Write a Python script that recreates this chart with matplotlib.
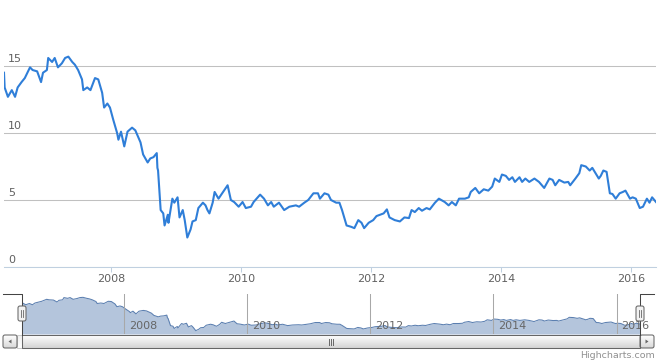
import matplotlib
matplotlib.use('Agg')
import matplotlib.pyplot as plt
import numpy as np
from matplotlib.patches import Rectangle, FancyBboxPatch, Polygon

# ---------------- data ----------------
years = [
    2006.35, 2006.36, 2006.41, 2006.47, 2006.52, 2006.56, 2006.62, 2006.67, 2006.75, 2006.79,
    2006.86, 2006.92, 2006.95, 2007.01, 2007.03, 2007.09, 2007.13, 2007.18, 2007.24, 2007.29,
    2007.34, 2007.40, 2007.44, 2007.49, 2007.55, 2007.57, 2007.63, 2007.68, 2007.75, 2007.80,
    2007.86, 2007.89, 2007.94, 2007.98, 2008.03, 2008.09, 2008.11, 2008.15, 2008.20, 2008.25,
    2008.32, 2008.37, 2008.45, 2008.49, 2008.56, 2008.60, 2008.65, 2008.70, 2008.71, 2008.72,
    2008.76, 2008.80, 2008.82, 2008.87, 2008.88, 2008.94, 2008.97, 2009.02, 2009.05, 2009.10,
    2009.13, 2009.17, 2009.22, 2009.25, 2009.30, 2009.34, 2009.41, 2009.45, 2009.48, 2009.51,
    2009.56, 2009.59, 2009.65, 2009.72, 2009.79, 2009.84, 2009.89, 2009.96, 2010.02, 2010.07,
    2010.15, 2010.19, 2010.29, 2010.35, 2010.41, 2010.46, 2010.50, 2010.58, 2010.66, 2010.74,
    2010.84, 2010.89, 2010.97, 2011.03, 2011.11, 2011.18, 2011.21, 2011.28, 2011.34, 2011.38,
    2011.46, 2011.51, 2011.55, 2011.62, 2011.69, 2011.74, 2011.80, 2011.85, 2011.89, 2011.96,
    2012.03, 2012.08, 2012.19, 2012.24, 2012.28, 2012.36, 2012.44, 2012.51, 2012.58, 2012.62,
    2012.67, 2012.73, 2012.78, 2012.85, 2012.90, 2012.98, 2013.04, 2013.13, 2013.19, 2013.24,
    2013.30, 2013.35, 2013.44, 2013.50, 2013.53, 2013.60, 2013.66, 2013.73, 2013.80, 2013.86,
    2013.90, 2013.97, 2014.01, 2014.07, 2014.12, 2014.17, 2014.21, 2014.28, 2014.32, 2014.37,
    2014.43, 2014.51, 2014.58, 2014.66, 2014.74, 2014.79, 2014.83, 2014.89, 2014.97, 2015.03,
    2015.06, 2015.14, 2015.20, 2015.23, 2015.30, 2015.36, 2015.40, 2015.45, 2015.50, 2015.53,
    2015.57, 2015.62, 2015.67, 2015.71, 2015.76, 2015.82, 2015.87, 2015.91, 2015.98, 2016.02,
    2016.07, 2016.13, 2016.18, 2016.24, 2016.28, 2016.32, 2016.38,
]
values = [
    14.5, 13.4, 12.7, 13.2, 12.7, 13.4, 13.8, 14.1, 14.9, 14.7,
    14.6, 13.8, 14.5, 14.7, 15.6, 15.3, 15.6, 14.9, 15.2, 15.6,
    15.7, 15.3, 15.1, 14.7, 14.0, 13.2, 13.4, 13.2, 14.1, 14.0,
    13.0, 11.9, 12.2, 11.9, 11.0, 10.0, 9.5, 10.1, 9.0, 10.1,
    10.4, 10.2, 9.3, 8.4, 7.8, 8.1, 8.2, 8.5, 7.4, 7.2,
    4.25, 4.0, 3.1, 3.9, 3.3, 5.1, 4.8, 5.2, 3.7, 4.25,
    3.5, 2.2, 2.8, 3.4, 3.5, 4.4, 4.8, 4.6, 4.25, 4.0,
    4.8, 5.6, 5.1, 5.6, 6.1, 5.0, 4.85, 4.5, 4.85, 4.4,
    4.5, 4.85, 5.4, 5.1, 4.6, 4.85, 4.5, 4.8, 4.25, 4.5,
    4.6, 4.5, 4.8, 5.0, 5.5, 5.5, 5.1, 5.5, 5.4, 5.0,
    4.8, 4.8, 4.25, 3.1, 3.0, 2.9, 3.5, 3.3, 2.9, 3.3,
    3.5, 3.8, 4.0, 4.3, 3.7, 3.5, 3.4, 3.7, 3.65, 4.25,
    4.1, 4.4, 4.2, 4.4, 4.3, 4.8, 5.1, 4.85, 4.6, 4.85,
    4.6, 5.1, 5.1, 5.2, 5.6, 5.9, 5.5, 5.8, 5.7, 6.0,
    6.6, 6.35, 6.9, 6.8, 6.5, 6.7, 6.35, 6.7, 6.35, 6.6,
    6.35, 6.6, 6.35, 5.9, 6.6, 6.5, 6.1, 6.5, 6.3, 6.35,
    6.1, 6.6, 7.0, 7.6, 7.5, 7.2, 7.4, 7.0, 6.6, 6.8,
    7.2, 7.1, 5.5, 5.45, 5.1, 5.5, 5.6, 5.7, 5.1, 5.2,
    5.1, 4.4, 4.5, 5.1, 4.8, 5.2, 4.85,
]
assert len(years) == len(values)

y_ticks = [0, 5, 10, 15]
x_ticks = [2008, 2010, 2012, 2014, 2016]
x_labels = ['2008', '2010', '2012', '2014', '2016']
credit = 'Highcharts.com'

# ---------------- figure ----------------
W, H = 664, 363
fig = plt.figure(figsize=(W / 100, H / 100), dpi=100)
fig.patch.set_facecolor('white')


def axes_px(l, t, r, b, **kw):
    return fig.add_axes([l / W, 1 - b / H, (r - l) / W, (b - t) / H], **kw)


LABEL = '#606060'
GRID = '#C0C0C0'
LINE = '#2f7ed8'

# main chart
ax = axes_px(4, 10, 656, 267)
ax.plot(years, values, color=LINE, lw=1.5, solid_joinstyle='round', zorder=3)
ax.set_xlim(years[0], years[-1])
ax.set_ylim(0, 19.18)
for s in ['top', 'right', 'left']:
    ax.spines[s].set_visible(False)
ax.spines['bottom'].set_color('#C0D0E0')
ax.spines['bottom'].set_linewidth(0.75)
ax.set_yticks(y_ticks)
ax.yaxis.grid(True, color=GRID, lw=0.75)
ax.tick_params(axis='y', length=0, labelleft=False)
for v in y_ticks:
    ax.annotate(str(v), xy=(0.006, v), xycoords=('axes fraction', 'data'),
                xytext=(0, 4.7), textcoords='offset points', ha='left', va='center',
                fontsize=8, color=LABEL)
ax.set_xticks(x_ticks)
ax.set_xticklabels(x_labels)
ax.tick_params(axis='x', length=3.5, width=0.75, color='#C0D0E0', labelsize=8,
               labelcolor=LABEL, pad=1.5)
ax.set_axisbelow(True)

# navigator
nav = axes_px(22, 294, 640, 334)
vmin, vmax = min(values), max(values)
rng = vmax - vmin
nlo, nhi = vmin - 0.1 * rng, vmax + 0.1 * rng
nav.fill_between(years, values, nlo, color='#b4c5dc', lw=0, zorder=2)
nav.plot(years, values, color='#5b7fb0', lw=0.75, zorder=3)
nav.set_xlim(years[0], years[-1])
nav.set_ylim(nlo, nhi)
for s in nav.spines.values():
    s.set_visible(False)
nav.set_xticks([])
nav.set_yticks([])
for t, lab in zip(x_ticks, x_labels):
    nav.axvline(t, color='#a8a8a8', lw=0.75, zorder=4)
    nav.annotate(lab, xy=(t, 0.2), xycoords=('data', 'axes fraction'),
                 xytext=(3.6, 0), textcoords='offset points', ha='left', va='center',
                 fontsize=8, color='#666666', zorder=5)

# decoration layer in pixel coordinates
deco = fig.add_axes([0, 0, 1, 1], zorder=10)
deco.set_xlim(0, W)
deco.set_ylim(H, 0)
deco.axis('off')
deco.patch.set_alpha(0)

# scrollbar track
grad = np.linspace(0, 1, 32).reshape(-1, 1)
deco.imshow(grad, cmap=matplotlib.colors.LinearSegmentedColormap.from_list('t', ['#f0f0f0', '#ffffff']),
            extent=(17, 640, 348, 335), aspect='auto', zorder=1)
deco.add_patch(Rectangle((17, 335), 623, 13, fill=False, ec='#cccccc', lw=0.75, zorder=2))
# scrollbar bar
deco.imshow(grad, cmap=matplotlib.colors.LinearSegmentedColormap.from_list('b', ['#ffffff', '#d4d4d4']),
            extent=(22, 640, 348, 335), aspect='auto', zorder=3)
deco.add_patch(Rectangle((22, 335), 618, 13, fill=False, ec='#666666', lw=0.75, zorder=4))
for dx in (-2, 0, 2):
    deco.plot([331 + dx, 331 + dx], [338.5, 344.5], color='#666666', lw=0.7, zorder=5)
# buttons
for bx, dirn in ((3, -1), (640, 1)):
    deco.imshow(grad, cmap=matplotlib.colors.LinearSegmentedColormap.from_list('btn', ['#ffffff', '#d8d8d8']),
                extent=(bx, bx + 14, 348, 335), aspect='auto', zorder=3)
    deco.add_patch(FancyBboxPatch((bx, 335), 14, 13, boxstyle='round,pad=0,rounding_size=2',
                                  fill=False, ec='#666666', lw=0.75, zorder=4))
    cx = bx + 7
    deco.add_patch(Polygon([[cx + 1.5 * dirn, 341.5], [cx - 1.5 * dirn, 339.5], [cx - 1.5 * dirn, 343.5]],
                           closed=True, fc='#666666', ec='none', zorder=5))

# navigator outline
deco.plot([3, 22, 22], [294, 294, 335], color='#444444', lw=0.75, zorder=6)
deco.plot([640, 640, 654], [335, 294, 294], color='#444444', lw=0.75, zorder=6)

# handles
for hx in (22, 640):
    deco.add_patch(FancyBboxPatch((hx - 4, 306), 8, 15, boxstyle='round,pad=0,rounding_size=2',
                                  fc='#f2f2f2', ec='#666666', lw=0.75, zorder=7))
    for dx in (-1, 1):
        deco.plot([hx + dx, hx + dx], [310, 317], color='#666666', lw=0.6, zorder=8)

# credits
deco.text(655, 355, credit, ha='right', va='center', fontsize=6.8, color='#909090', zorder=9)

fig.savefig('out.png', dpi=100, facecolor='white')
